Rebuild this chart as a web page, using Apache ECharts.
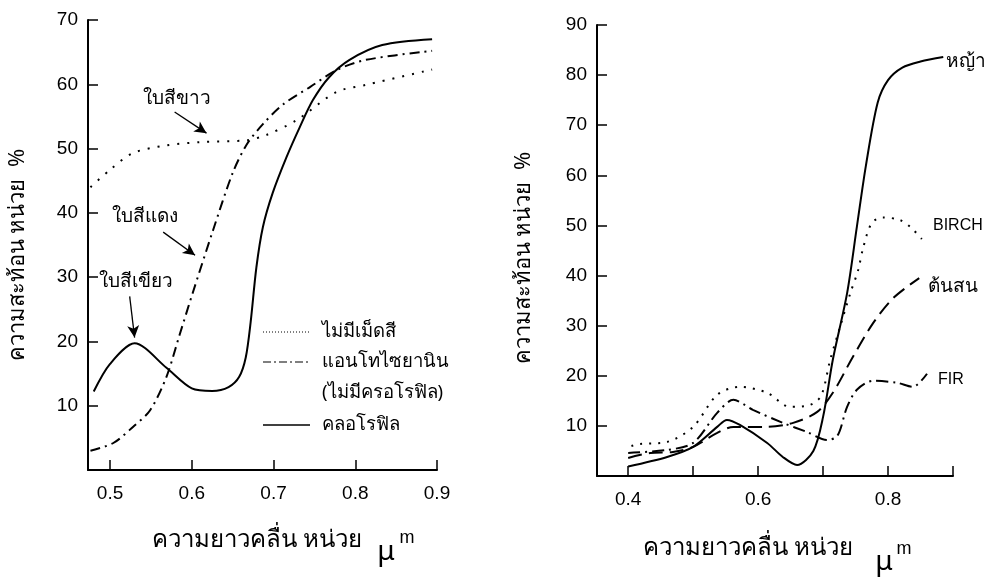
<!DOCTYPE html>
<html>
<head>
<meta charset="utf-8">
<script src="https://cdn.jsdelivr.net/npm/echarts@6/dist/echarts.min.js"></script>
<style>
html, body { margin: 0; padding: 0; background: #fff; }
#main { width: 1003px; height: 577px; }
</style>
</head>
<body>
<div id="main"></div>
<script>
// left: reflectance of leaf pigments  [wavelength um, reflectance %]
var leftWhite = [[0.476,44],[0.5,46.7],[0.528,49.3],[0.569,50.5],[0.61,51],[0.667,51.3],[0.691,52.1],[0.728,54.4],[0.777,58.8],[0.813,59.9],[0.894,62.3]];
var leftAntho = [[0.476,3],[0.504,4.2],[0.528,6.7],[0.549,9.3],[0.569,14.5],[0.585,21],[0.601,27.5],[0.626,37.3],[0.65,46.2],[0.667,50.6],[0.687,53.8],[0.712,56.9],[0.745,59.6],[0.777,62.2],[0.813,63.8],[0.894,65.2]];
var leftChloro = [[0.48,12.2],[0.5,16.5],[0.53,19.7],[0.569,15.9],[0.6,12.7],[0.625,12.3],[0.645,12.9],[0.658,14.5],[0.666,17.5],[0.672,23],[0.679,31.5],[0.687,37.8],[0.699,43.1],[0.716,48.7],[0.732,53.3],[0.748,57.5],[0.768,61.1],[0.793,63.8],[0.833,66.1],[0.894,67]];

// right: vegetation types
var rightGrass = [[0.4,1.9],[0.46,3.8],[0.5,5.8],[0.537,9.8],[0.552,11.2],[0.572,10.2],[0.614,6.6],[0.638,3.8],[0.66,2.2],[0.685,5],[0.7,11.8],[0.715,23.2],[0.737,36.5],[0.752,49.7],[0.766,62],[0.784,74.5],[0.8,79],[0.822,81.5],[0.85,82.7],[0.885,83.6]];
var rightBirch = [[0.405,6],[0.418,6.4],[0.46,6.8],[0.5,9.8],[0.537,16.2],[0.572,17.8],[0.614,16.6],[0.649,13.8],[0.68,14.2],[0.697,16],[0.711,23.2],[0.726,29.7],[0.742,36.5],[0.754,41.1],[0.762,45.7],[0.775,50.5],[0.792,51.6],[0.818,51.1],[0.835,49.6],[0.852,47.3]];
var rightPine = [[0.4,3.6],[0.434,4.6],[0.469,4.8],[0.5,5.8],[0.537,8.6],[0.562,9.8],[0.614,9.8],[0.654,10.6],[0.691,12.8],[0.715,16.6],[0.746,23.8],[0.777,30.5],[0.808,35.5],[0.848,39.5]];
var rightFir = [[0.4,4.6],[0.46,5.2],[0.5,6.6],[0.537,12.6],[0.562,15.2],[0.592,13.2],[0.638,10.6],[0.675,8.8],[0.706,7.2],[0.722,8],[0.737,13.8],[0.752,17.2],[0.777,19],[0.814,18.6],[0.838,17.8],[0.86,20.4]];

// ticks
var leftXTicks = [0.5, 0.6, 0.7, 0.8, 0.9];
var rightXTicks = [0.4, 0.5, 0.6, 0.7, 0.8, 0.9];
var rightXLabels = [0.4, 0.6, 0.8];

// arrows of the left annotations (from, to)
var arrowWhite = [[0.579,55.7],[0.618,52.4]];
var arrowRed = [[0.565,37],[0.604,33.4]];
var arrowGreen = [[0.524,27],[0.53,20.6]];

var numFont = "'Liberation Sans', Arial, sans-serif";
var thaiFont = "'Noto Sans', 'DejaVu Sans', sans-serif";

function xAxisOf(grid, min, max, ticks, labels) {
    return {
        type: 'value', gridIndex: grid, min: min, max: max,
        axisLine: { lineStyle: { color: '#000', width: 2 } },
        axisTick: { inside: true, length: 10, customValues: ticks, lineStyle: { color: '#000', width: 1.5 } },
        axisLabel: { customValues: labels, color: '#000', fontSize: 19, fontFamily: numFont, margin: 14 },
        splitLine: { show: false }
    };
}
function yAxisOf(grid, max) {
    return {
        type: 'value', gridIndex: grid, min: 0, max: max, interval: 10,
        axisLine: { show: true, lineStyle: { color: '#000', width: 2 } },
        axisTick: { show: true, inside: true, length: 10, lineStyle: { color: '#000', width: 1.5 } },
        axisLabel: { showMinLabel: false, color: '#000', fontSize: 19, fontFamily: numFont, margin: 10 },
        splitLine: { show: false }
    };
}
function arrow(a) {
    return [{ coord: a[0] }, { coord: a[1] }];
}
function line(name, x, y, data, type) {
    return {
        name: name, type: 'line', xAxisIndex: x, yAxisIndex: y, data: data,
        smooth: 0.3, showSymbol: false, silent: true,
        lineStyle: { color: '#000', width: 2, type: type }
    };
}
function label(x, y, text, size, font) {
    return { type: 'text', x: x, y: y, style: { text: text, font: size + 'px ' + font, fill: '#000', verticalAlign: 'middle' } };
}

var myChart = echarts.init(document.getElementById('main'));

var chloro = line('คลอโรฟิล', 0, 0, leftChloro, 'solid');
chloro.markLine = {
    silent: true, symbol: ['none', 'arrow'], symbolSize: [9, 12],
    label: { show: false },
    lineStyle: { color: '#000', width: 1.3, type: 'solid' },
    data: [arrow(arrowWhite), arrow(arrowRed), arrow(arrowGreen)]
};

var option = {
    backgroundColor: '#fff',
    animation: false,
    grid: [
        { left: 88, top: 20, width: 349, height: 450 },
        { left: 597, top: 25, width: 356, height: 451 }
    ],
    xAxis: [
        xAxisOf(0, 0.473, 0.9, leftXTicks, leftXTicks),
        xAxisOf(1, 0.352, 0.9, rightXTicks, rightXLabels)
    ],
    yAxis: [yAxisOf(0, 70), yAxisOf(1, 90)],
    series: [
        line('ไม่มีเม็ดสี', 0, 0, leftWhite, [2, 8]),
        line('แอนโทไซยานิน', 0, 0, leftAntho, [10, 5, 2, 5]),
        chloro,
        line('หญ้า', 1, 1, rightGrass, 'solid'),
        line('BIRCH', 1, 1, rightBirch, [2, 7]),
        line('ต้นสน', 1, 1, rightPine, [14, 7]),
        line('FIR', 1, 1, rightFir, [12, 5, 2, 5])
    ],
    graphic: [
        // axis titles
        { type: 'text', x: 18, y: 255, rotation: Math.PI / 2, style: { text: 'ความสะท้อน หน่วย  %', font: '22px ' + thaiFont, fill: '#000', align: 'center', verticalAlign: 'middle' } },
        { type: 'text', x: 524, y: 258, rotation: Math.PI / 2, style: { text: 'ความสะท้อน หน่วย  %', font: '22px ' + thaiFont, fill: '#000', align: 'center', verticalAlign: 'middle' } },
        { type: 'text', x: 257, y: 540, style: { text: 'ความยาวคลื่น หน่วย', font: '24px ' + thaiFont, fill: '#000', align: 'center', verticalAlign: 'middle' } },
        { type: 'text', x: 386, y: 552, style: { text: 'μ', font: '28px ' + thaiFont, fill: '#000', align: 'center', verticalAlign: 'middle' } },
        { type: 'text', x: 407, y: 538, style: { text: 'm', font: '18px ' + numFont, fill: '#000', align: 'center', verticalAlign: 'middle' } },
        { type: 'text', x: 748, y: 548, style: { text: 'ความยาวคลื่น หน่วย', font: '24px ' + thaiFont, fill: '#000', align: 'center', verticalAlign: 'middle' } },
        { type: 'text', x: 884, y: 562, style: { text: 'μ', font: '28px ' + thaiFont, fill: '#000', align: 'center', verticalAlign: 'middle' } },
        { type: 'text', x: 904, y: 549, style: { text: 'm', font: '18px ' + numFont, fill: '#000', align: 'center', verticalAlign: 'middle' } },
        // left annotations
        label(143, 99, 'ใบสีขาว', 19, thaiFont),
        label(112, 217, 'ใบสีแดง', 19, thaiFont),
        label(99, 282, 'ใบสีเขียว', 19, thaiFont),
        // left legend
        { type: 'line', shape: { x1: 263, y1: 332, x2: 310, y2: 332 }, style: { stroke: '#000', lineWidth: 1, lineDash: [1, 2] } },
        { type: 'line', shape: { x1: 263, y1: 362, x2: 310, y2: 362 }, style: { stroke: '#000', lineWidth: 1.2, lineDash: [8, 3, 2, 3] } },
        { type: 'line', shape: { x1: 263, y1: 425, x2: 310, y2: 425 }, style: { stroke: '#000', lineWidth: 1.5 } },
        label(322, 332, 'ไม่มีเม็ดสี', 18.5, thaiFont),
        label(322, 362, 'แอนโทไซยานิน', 18.5, thaiFont),
        label(322, 393, '(ไม่มีครอโรฟิล)', 18.5, thaiFont),
        label(322, 425, 'คลอโรฟิล', 18.5, thaiFont),
        // right curve labels
        label(946, 62, 'หญ้า', 19, thaiFont),
        label(933, 226, 'BIRCH', 16, numFont),
        label(928, 287, 'ต้นสน', 19, thaiFont),
        label(938, 380, 'FIR', 16, numFont)
    ]
};
myChart.setOption(option);
</script>
</body>
</html>
